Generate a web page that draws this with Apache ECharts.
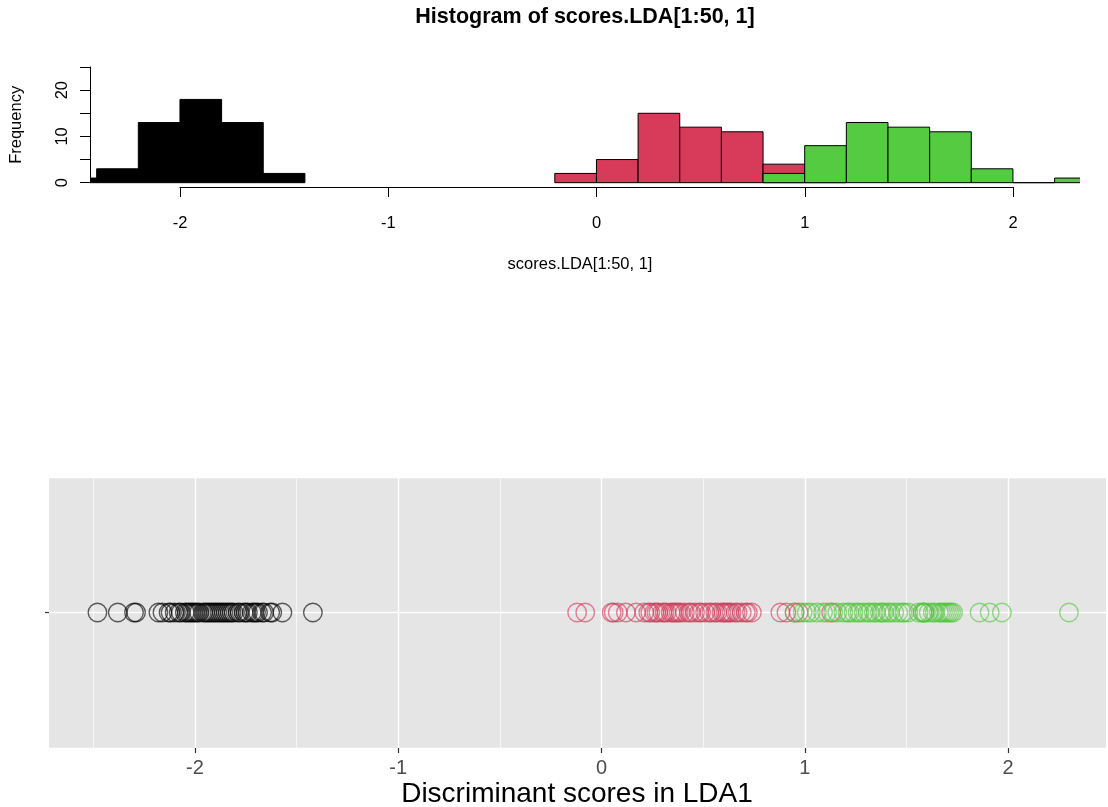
<!DOCTYPE html>
<html>
<head>
<meta charset="utf-8">
<script src="https://cdn.jsdelivr.net/npm/echarts@6/dist/echarts.min.js"></script>
<style>
html,body{margin:0;padding:0;background:#fff;}
#chart{width:1108px;height:807px;}
</style>
</head>
<body>
<div id="chart"></div>
<script>
// ---- Histogram (bin lower edges, width 0.2) ----
const binWidth = 0.2;
const blackBins = [-2.6, -2.4, -2.2, -2.0, -1.8, -1.6];
const blackCounts = [1, 3, 13, 18, 13, 2];
const redBins = [-0.2, 0.0, 0.2, 0.4, 0.6, 0.8, 1.0];
const redCounts = [2, 5, 15, 12, 11, 4, 1];
const greenBins = [0.8, 1.0, 1.2, 1.4, 1.6, 1.8, 2.0, 2.2];
const greenCounts = [2, 8, 13, 12, 11, 3, 0, 1];
const histXTicks = [-2, -1, 0, 1, 2];
const histYTicks = [0, 5, 10, 15, 20, 25];

// ---- Discriminant scores (strip plot) ----
const blackScores = [-2.48, -2.38, -2.30, -2.29,
  -2.18, -2.16, -2.13, -2.12, -2.10, -2.08, -2.07, -2.05, -2.04, -2.03, -2.02, -2.01, -2.00,
  -1.99, -1.98, -1.96, -1.95, -1.94, -1.93, -1.92, -1.91, -1.90, -1.89, -1.88, -1.87, -1.86, -1.85, -1.84, -1.83, -1.82, -1.81,
  -1.79, -1.78, -1.76, -1.75, -1.74, -1.72, -1.71, -1.70, -1.69, -1.67, -1.66, -1.63, -1.62,
  -1.57, -1.42];
const redScores = [-0.12, -0.08,
  0.05, 0.06, 0.08, 0.12, 0.17,
  0.21, 0.23, 0.24, 0.26, 0.27, 0.28, 0.30, 0.31, 0.32, 0.34, 0.35, 0.36, 0.37, 0.38, 0.39,
  0.41, 0.43, 0.44, 0.46, 0.48, 0.49, 0.51, 0.53, 0.54, 0.56, 0.57, 0.59,
  0.60, 0.61, 0.62, 0.63, 0.64, 0.66, 0.67, 0.69, 0.71, 0.72, 0.74,
  0.88, 0.91, 0.95, 0.97,
  1.13];
const greenScores = [0.95, 0.99,
  1.01, 1.03, 1.06, 1.09, 1.11, 1.14, 1.16, 1.19,
  1.21, 1.22, 1.24, 1.26, 1.27, 1.29, 1.31, 1.32, 1.34, 1.35, 1.37, 1.38, 1.39,
  1.41, 1.42, 1.44, 1.46, 1.48, 1.49, 1.51, 1.56, 1.58, 1.58, 1.59, 1.59,
  1.61, 1.63, 1.64, 1.66, 1.67, 1.68, 1.69, 1.70, 1.71, 1.72, 1.73,
  1.86, 1.91, 1.97,
  2.30];

const FONT = 'Liberation Sans, Arial, sans-serif';
const RED = '#D83B5A';
const GREEN = '#55CB41';

function histSeries(bins, counts, fill) {
  return {
    type: 'custom',
    xAxisIndex: 0, yAxisIndex: 0,
    clip: true,
    silent: true,
    data: bins.map((b, i) => [b, b + binWidth, counts[i]]),
    encode: { x: [0, 1], y: 2 },
    renderItem: function (params, api) {
      const p0 = api.coord([api.value(0), 0]);
      const p1 = api.coord([api.value(1), api.value(2)]);
      return {
        type: 'rect',
        shape: { x: p0[0], y: p1[1], width: p1[0] - p0[0], height: p0[1] - p1[1] },
        style: { fill: fill, stroke: '#000', lineWidth: 1 }
      };
    }
  };
}

function stripSeries(values, color) {
  return {
    type: 'scatter',
    xAxisIndex: 4, yAxisIndex: 4,
    symbol: 'circle',
    symbolSize: 18.5,
    silent: true,
    data: values.map(v => [v, 0]),
    itemStyle: { color: 'rgba(0,0,0,0)', borderColor: color, borderWidth: 1.4 }
  };
}

const chart = echarts.init(document.getElementById('chart'), null, { renderer: 'canvas' });
const option = {
  animation: false,
  backgroundColor: '#fff',
  textStyle: { fontFamily: FONT },
  title: [
    { text: 'Histogram of scores.LDA[1:50, 1]', left: 585, top: 6, textAlign: 'center', padding: 0,
      textStyle: { fontFamily: FONT, fontWeight: 'bold', fontSize: 21.5, color: '#000' } },
    { text: 'scores.LDA[1:50, 1]', left: 580, top: 256, textAlign: 'center', padding: 0,
      textStyle: { fontFamily: FONT, fontWeight: 'normal', fontSize: 16.5, color: '#000' } },
    { text: 'Discriminant scores in LDA1', left: 577, top: 780, textAlign: 'center', padding: 0,
      textStyle: { fontFamily: FONT, fontWeight: 'normal', fontSize: 28, color: '#000' } }
  ],
  grid: [
    { left: 90, top: 62.4, width: 990, height: 124.9, outerBoundsMode: 'none' },
    { left: 180, top: 150, width: 833, height: 37, outerBoundsMode: 'none' },
    { left: 90, top: 67, width: 50, height: 115.7, outerBoundsMode: 'none' },
    { left: 49, top: 477, width: 1057, height: 271, show: true, backgroundColor: '#E5E5E5', borderWidth: 0, outerBoundsMode: 'none' },
    { left: -8.25, top: 477, width: 1219.5, height: 271, outerBoundsMode: 'none' }
  ],
  xAxis: [
    { gridIndex: 0, type: 'value', min: -2.432, max: 2.322, show: false },
    { gridIndex: 1, type: 'value', min: histXTicks[0], max: histXTicks[histXTicks.length - 1], interval: 1,
      axisLine: { show: true, onZero: false, lineStyle: { color: '#000', width: 1 } },
      axisTick: { show: true, length: 10, lineStyle: { color: '#000' } },
      axisLabel: { color: '#000', fontSize: 16.5, margin: 28, fontFamily: FONT },
      splitLine: { show: false } },
    { gridIndex: 2, type: 'value', show: false },
    { gridIndex: 3, type: 'value', min: 0, max: 1, show: false },
    { gridIndex: 4, type: 'value', min: -3, max: 3, interval: 1, position: 'bottom',
      axisLine: { show: false, onZero: false },
      axisTick: { show: true, length: 5, lineStyle: { color: '#333', width: 1.2 } },
      axisLabel: { color: '#4D4D4D', fontSize: 20, margin: 10, fontFamily: FONT, showMinLabel: false, showMaxLabel: false },
      splitLine: { show: true, lineStyle: { color: '#fff', width: 1.4 } },
      minorTick: { show: false, splitNumber: 2 },
      minorSplitLine: { show: true, lineStyle: { color: '#fff', width: 0.7 } } }
  ],
  yAxis: [
    { gridIndex: 0, type: 'value', min: -1, max: 26, show: false },
    { gridIndex: 1, type: 'value', min: 0, max: 1, show: false },
    { gridIndex: 2, type: 'value', min: histYTicks[0], max: histYTicks[histYTicks.length - 1], interval: 5,
      axisLine: { show: true, onZero: false, lineStyle: { color: '#000', width: 1 } },
      axisTick: { show: true, length: 10, lineStyle: { color: '#000' } },
      axisLabel: { color: '#000', fontSize: 16.5, margin: 19, rotate: 90, fontFamily: FONT,
        formatter: v => (v % 10 === 0 ? String(v) : '') },
      splitLine: { show: false },
      name: 'Frequency', nameLocation: 'middle', nameRotate: 90, nameGap: 65,
      nameTextStyle: { color: '#000', fontSize: 16.5, fontFamily: FONT } },
    { gridIndex: 3, type: 'category', data: [''],
      axisLine: { show: false, onZero: false },
      axisTick: { show: true, alignWithLabel: true, length: 4, lineStyle: { color: '#333', width: 1.2 } },
      axisLabel: { show: false },
      splitLine: { show: false } },
    { gridIndex: 4, type: 'value', min: -1, max: 1, interval: 1,
      axisLine: { show: false, onZero: false }, axisTick: { show: false }, axisLabel: { show: false },
      splitLine: { show: true, lineStyle: { color: '#fff', width: 1.4 } } }
  ],
  series: [
    histSeries(blackBins, blackCounts, '#000'),
    histSeries(redBins, redCounts, RED),
    histSeries(greenBins, greenCounts, GREEN),
    stripSeries(blackScores, 'rgba(0,0,0,0.78)'),
    stripSeries(redScores, 'rgba(214,52,86,0.75)'),
    stripSeries(greenScores, 'rgba(80,196,58,0.75)')
  ]
};
chart.setOption(option);
</script>
</body>
</html>
